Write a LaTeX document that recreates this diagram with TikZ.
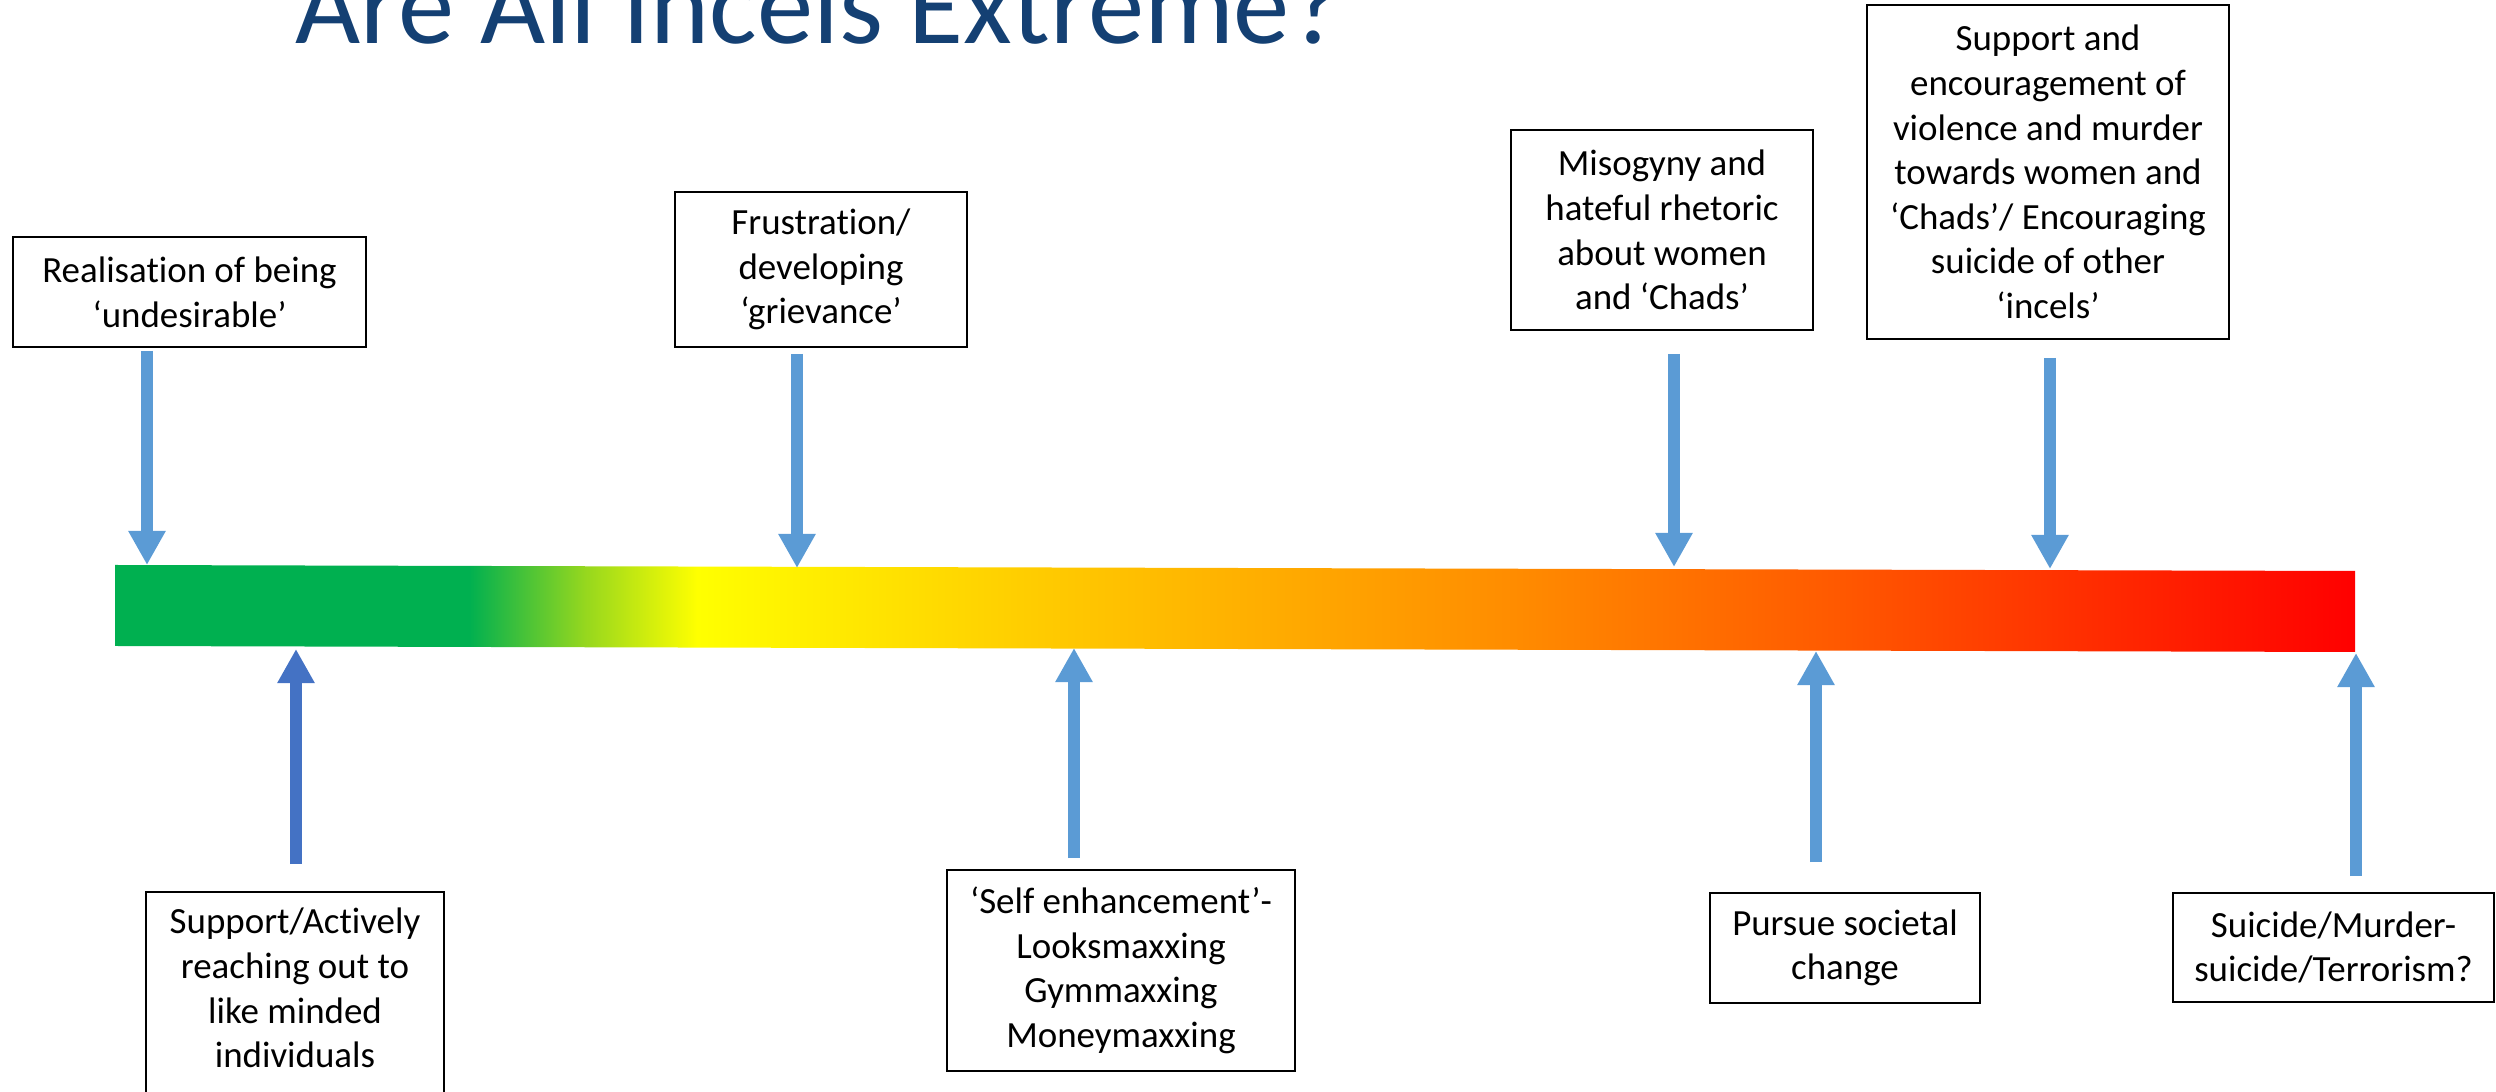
\documentclass[tikz,border=0pt]{standalone}
\usepackage{fontspec}
\setmainfont{Carlito}[Ligatures=NoCommon]
\usepackage{tikz}
\usetikzlibrary{arrows.meta}

\definecolor{titleblue}{RGB}{20,64,115}
\definecolor{arrowblue}{RGB}{91,155,213}
\definecolor{darkarrow}{RGB}{68,114,196}
\definecolor{bargreen}{RGB}{0,176,80}
\definecolor{barlime}{RGB}{150,215,30}
\definecolor{bargold}{RGB}{255,204,0}
\definecolor{barorange}{RGB}{255,140,0}
\definecolor{barembers}{RGB}{255,90,0}
\definecolor{barhot}{RGB}{255,40,0}

\pgfdeclarehorizontalshading{riskbar}{100bp}{color(0bp)=(bargreen); color(25bp)=(bargreen);
  color(32.9bp)=(bargreen); color(35.5bp)=(barlime); color(38bp)=(yellow); color(45.5bp)=(bargold);
  color(56.2bp)=(barorange); color(63.3bp)=(barembers); color(69.7bp)=(barhot);
  color(75bp)=(red); color(100bp)=(red)}

\tikzset{
  stage/.style={draw, line width=0.5pt, align=center, inner sep=0pt,
    font=\fontsize{10.5}{12.7}\selectfont},
  plain/.style={align=center, inner sep=0pt, font=\fontsize{10.5}{12.7}\selectfont},
  pointer/.style={line width=0.12cm, arrowblue, -{Triangle[width=0.35cm,length=0.34cm]}},
  darkpointer/.style={pointer, darkarrow}
}

\begin{document}
\begin{tikzpicture}[x=0.01cm, y=-0.01cm]
  \useasboundingbox (0,0) rectangle (2496,1092);

  % title, cut by the top of the slide
  \node[anchor=base west, inner sep=0pt, text=titleblue,
    font=\fontsize{32}{38}\selectfont] (heading) at (295,44) {Are All Incels Extreme?};

  % the scale bar
  \shade[shading=riskbar] (115,565) -- (2355,571) -- (2355,652) -- (115,646) -- cycle;

  % where the arrows meet the bar
  \coordinate (t1) at (147,565);
  \coordinate (t2) at (797,568);
  \coordinate (t3) at (1674,567);
  \coordinate (t4) at (2050,569);
  \coordinate (b1) at (296,649);
  \coordinate (b2) at (1074,648);
  \coordinate (b3) at (1816,651);
  \coordinate (b4) at (2356,653);

  % upper stages
  \node[stage, minimum width=3.53cm, minimum height=1.10cm] (undesirable) at (189.5,292)
    {Realisation of being\\‘undesirable’};
  \node[stage, minimum width=2.92cm, minimum height=1.55cm] (grievance) at (821,269.5)
    {Frustration/\\developing\\‘grievance’};
  \node[stage, minimum width=3.02cm, minimum height=2.00cm] (misogyny) at (1662,230)
    {Misogyny and\\hateful rhetoric\\about women\\and ‘Chads’};
  \node[stage, minimum width=3.62cm, minimum height=3.34cm] (violence) at (2048,172)
    {Support and\\encouragement of\\violence and murder\\towards women and\\‘Chads’/ Encouraging\\suicide of other\\‘incels’};

  % lower stages
  \node[plain, minimum width=2.96cm, minimum height=1.90cm] (reaching) at (295,988)
    {Support/Actively\\reaching out to\\like minded\\individuals};
  \draw[line width=0.5pt] (reaching.south west) ++(0,40) -- (reaching.north west)
    -- (reaching.north east) -- ++(0,230);
  \node[stage, minimum width=3.48cm, minimum height=2.01cm] (enhancement) at (1121,970.5)
    {‘Self enhancement’-\\Looksmaxxing\\Gymmaxxing\\Moneymaxxing};
  \node[stage, minimum width=2.70cm, minimum height=1.10cm] (societal) at (1845,948)
    {Pursue societal\\change};
  \node[stage, minimum width=3.21cm, minimum height=1.09cm] (terrorism) at (2333.5,947.5)
    {Suicide/Murder-\\suicide/Terrorism?};

  % arrows
  \draw[pointer] (undesirable.south -| t1) ++(0,3) -- (t1);
  \draw[pointer] (grievance.south -| t2) ++(0,6) -- (t2);
  \draw[pointer] (misogyny.south -| t3) ++(0,23) -- (t3);
  \draw[pointer] (violence.south -| t4) ++(0,18) -- (t4);
  \draw[darkpointer] (reaching.north -| b1) ++(0,-28) -- (b1);
  \draw[pointer] (enhancement.north -| b2) ++(0,-11) -- (b2);
  \draw[pointer] (societal.north -| b3) ++(0,-30) -- (b3);
  \draw[pointer] (terrorism.north -| b4) ++(0,-16) -- (b4);
\end{tikzpicture}
\end{document}
